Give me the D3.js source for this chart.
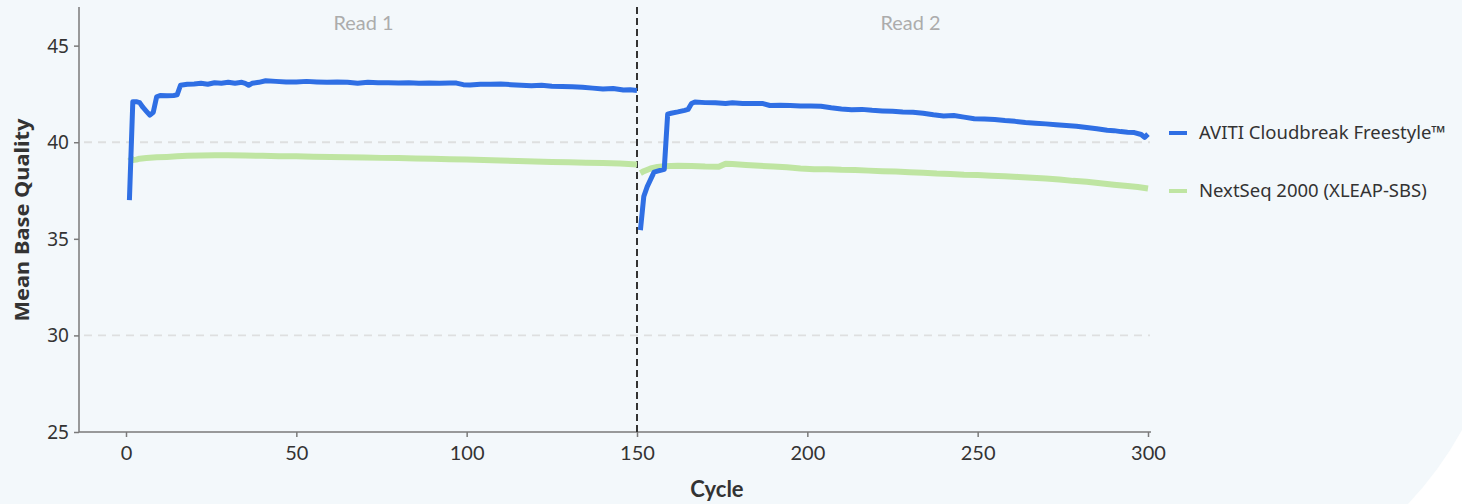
<!DOCTYPE html>
<html>
<head>
<meta charset="utf-8">
<script src="https://cdn.jsdelivr.net/npm/d3@7"></script>
<style>
  html, body { margin: 0; padding: 0; background: #f3f8fb; }
  svg { display: block; }
</style>
</head>
<body>
<svg id="chart" width="1462" height="504"></svg>
<script>
// ---------------- DATA ----------------
const seriesNames = ["AVITI Cloudbreak Freestyle™", "NextSeq 2000 (XLEAP-SBS)"];
const readLabels = ["Read 1", "Read 2"];
const xTicks = [0, 50, 100, 150, 200, 250, 300];
const yTicks = [25, 30, 35, 40, 45];
const gridValues = [30, 40];
const readBoundary = 150;

const avitiRead1Cycles = [1,2,3,4,5,6,7,8,9,10,12,14,15,16,18,20,22,24,26,28,30,32,34,35,36,37,39,41,44,47,50,53,56,59,62,65,68,71,74,77,80,83,86,89,92,95,97,99,101,104,107,110,113,116,119,122,125,128,131,134,137,140,143,146,148,150];
const avitiRead1Q = [37.0,42.1,42.1,42.05,41.8,41.6,41.4,41.55,42.35,42.42,42.4,42.42,42.45,42.95,43.0,43.02,43.05,43.0,43.08,43.05,43.1,43.05,43.1,43.05,42.95,43.05,43.1,43.18,43.15,43.12,43.12,43.15,43.12,43.1,43.12,43.1,43.05,43.1,43.08,43.08,43.06,43.08,43.05,43.07,43.05,43.07,43.06,42.98,42.96,43.0,43.0,43.02,42.98,42.95,42.92,42.95,42.9,42.88,42.87,42.85,42.8,42.75,42.78,42.7,42.72,42.68];

const avitiRead2Cycles = [151,152,153,155,156,158,159,160,162,164,165,166,167,170,173,176,178,181,184,187,189,192,195,198,201,204,207,210,213,216,219,222,225,228,231,234,237,240,243,246,249,252,255,258,261,264,267,270,273,276,279,282,285,288,290,292,294,296,298,299,300];
const avitiRead2Q = [35.45,37.2,37.7,38.45,38.5,38.6,41.45,41.5,41.57,41.65,41.7,42.0,42.08,42.05,42.04,42.0,42.04,42.0,42.0,42.0,41.9,41.92,41.9,41.87,41.87,41.86,41.78,41.72,41.68,41.7,41.65,41.62,41.6,41.56,41.55,41.5,41.42,41.36,41.38,41.3,41.22,41.2,41.18,41.12,41.08,41.02,40.98,40.95,40.9,40.86,40.83,40.76,40.7,40.62,40.6,40.55,40.52,40.5,40.4,40.25,40.42];

const nextseqRead1Cycles = [1,2,3,4,6,9,12,15,18,22,26,30,35,40,45,50,55,60,65,70,75,80,85,90,95,100,105,110,115,120,125,130,135,140,145,150];
const nextseqRead1Q = [39.25,39.08,39.1,39.15,39.18,39.22,39.24,39.27,39.3,39.31,39.32,39.33,39.31,39.3,39.28,39.27,39.25,39.24,39.22,39.21,39.19,39.18,39.16,39.14,39.12,39.1,39.08,39.06,39.03,39.0,38.98,38.96,38.94,38.92,38.9,38.85];

const nextseqRead2Cycles = [151,152,154,156,158,162,166,170,174,176,178,182,186,190,194,198,202,206,210,214,218,222,226,230,234,238,242,246,250,254,258,262,266,270,274,278,282,286,290,294,297,300];
const nextseqRead2Q = [38.4,38.5,38.64,38.72,38.76,38.78,38.77,38.74,38.73,38.88,38.87,38.82,38.78,38.74,38.7,38.64,38.6,38.6,38.57,38.56,38.53,38.5,38.48,38.45,38.42,38.38,38.36,38.32,38.3,38.27,38.24,38.2,38.16,38.12,38.07,38.0,37.95,37.88,37.8,37.73,37.68,37.6];

// ---------------- CHART ----------------
const colors = ["#2f6fe4", "#bfe5a2"];
const svg = d3.select("#chart");

// background corner shape
svg.append("path")
  .attr("d", "M1462,430 Q1440,470 1408,504 L1462,504 Z")
  .attr("fill", "#ffffff");

const x = d3.scaleLinear().domain([0, 300]).range([126, 1148]);
const y = d3.scaleLinear().domain([25, 47]).range([432, 7]);
const axisLeftX = 79;

// grid
svg.append("g").selectAll("line").data(gridValues).join("line")
  .attr("x1", 84).attr("x2", 1150)
  .attr("y1", d => y(d)).attr("y2", d => y(d))
  .attr("stroke", "#dedfe0").attr("stroke-width", 1.8)
  .attr("stroke-dasharray", "8,6");

// Y axis
const yAxis = svg.append("g")
  .attr("transform", `translate(${axisLeftX},0)`)
  .call(d3.axisLeft(y).tickValues(yTicks).tickSize(5).tickPadding(5).tickFormat(d3.format("d")));
yAxis.select(".domain").remove();
yAxis.selectAll(".tick line").attr("stroke", "#7a7a7a").attr("stroke-width", 1.5);
yAxis.selectAll(".tick text")
  .attr("font-family", "'Noto Sans', sans-serif").attr("font-size", 19)
  .attr("fill", "#333").attr("dy", "0.34em");
svg.append("line")
  .attr("x1", axisLeftX).attr("x2", axisLeftX).attr("y1", 7).attr("y2", y(25))
  .attr("stroke", "#7a7a7a").attr("stroke-width", 1.5);

// X axis
const xAxis = svg.append("g")
  .attr("transform", `translate(0,${y(25)})`)
  .call(d3.axisBottom(x).tickValues(xTicks).tickSize(5).tickPadding(9).tickFormat(d3.format("d")));
xAxis.select(".domain").remove();
xAxis.selectAll(".tick line").attr("stroke", "#7a7a7a").attr("stroke-width", 1.5);
xAxis.selectAll(".tick text")
  .attr("font-family", "Lato, sans-serif").attr("font-size", 20)
  .attr("fill", "#333");
svg.append("line")
  .attr("x1", axisLeftX).attr("x2", 1151).attr("y1", y(25)).attr("y2", y(25))
  .attr("stroke", "#7a7a7a").attr("stroke-width", 1.5);

// axis titles
svg.append("text")
  .attr("transform", `translate(29,220) rotate(-90)`)
  .attr("text-anchor", "middle")
  .attr("font-family", "'Noto Sans', sans-serif").attr("font-weight", 700)
  .attr("font-size", 20).attr("fill", "#333")
  .attr("textLength", 203).attr("lengthAdjust", "spacingAndGlyphs")
  .text("Mean Base Quality");
svg.append("text")
  .attr("x", 717).attr("y", 497)
  .attr("text-anchor", "middle")
  .attr("font-family", "Lato, sans-serif").attr("font-weight", 700)
  .attr("font-size", 22).attr("fill", "#333")
  .text("Cycle");

// read boundary
svg.append("line")
  .attr("x1", x(readBoundary)).attr("x2", x(readBoundary))
  .attr("y1", 7).attr("y2", y(25))
  .attr("stroke", "#333").attr("stroke-width", 2)
  .attr("stroke-dasharray", "7,4");

// read labels
const readCenters = [ (x(0) + x(150)) / 2 - 18, (x(150) + x(300)) / 2 + 18 ];
svg.append("g").selectAll("text").data(readLabels).join("text")
  .attr("x", (d, i) => readCenters[i]).attr("y", 30)
  .attr("text-anchor", "middle")
  .attr("font-family", "Lato, sans-serif").attr("font-size", 20)
  .attr("fill", "#acacac")
  .attr("textLength", 60).attr("lengthAdjust", "spacingAndGlyphs")
  .text(d => d);

// lines
const line = d3.line().x(d => x(d[0])).y(d => y(d[1])).curve(d3.curveLinear);
const zip = (a, b) => a.map((c, i) => [c, b[i]]);
const segments = [
  { s: 1, pts: zip(nextseqRead1Cycles, nextseqRead1Q), w: 6 },
  { s: 1, pts: zip(nextseqRead2Cycles, nextseqRead2Q), w: 6 },
  { s: 0, pts: zip(avitiRead1Cycles, avitiRead1Q), w: 5 },
  { s: 0, pts: zip(avitiRead2Cycles, avitiRead2Q), w: 5 }
];
svg.append("g").selectAll("path").data(segments).join("path")
  .attr("d", d => line(d.pts))
  .attr("fill", "none")
  .attr("stroke", d => colors[d.s])
  .attr("stroke-width", d => d.w)
  .attr("stroke-linejoin", "round")
  .attr("stroke-linecap", "butt");

// legend
const legendY = [133, 191];
const lg = svg.append("g").selectAll("g").data(seriesNames).join("g")
  .attr("transform", (d, i) => `translate(1169,${legendY[i]})`);
lg.append("line").attr("x1", 0).attr("x2", 18).attr("y1", 0).attr("y2", 0)
  .attr("stroke", (d, i) => colors[i]).attr("stroke-width", 4);
lg.append("text").attr("x", 30).attr("y", 0).attr("dy", "0.35em")
  .attr("font-family", "'Noto Sans', sans-serif").attr("font-size", 18.5)
  .attr("fill", "#333")
  .text(d => d);
</script>
</body>
</html>
